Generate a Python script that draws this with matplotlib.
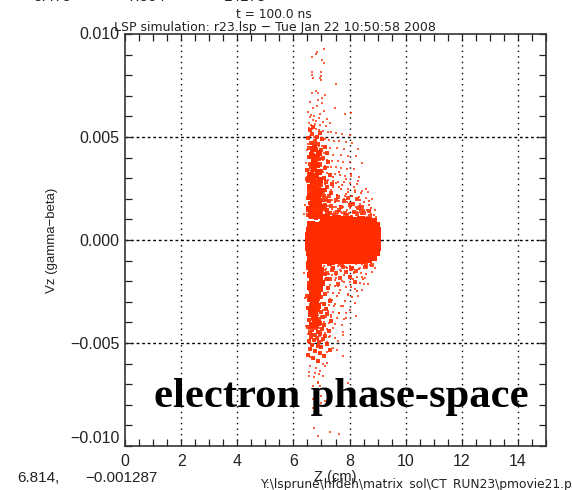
import matplotlib
matplotlib.use('Agg')
import matplotlib.pyplot as plt

outname = 'out.png'

xticks = [0, 2, 4, 6, 8, 10, 12, 14]
xtick_labels = ['0', '2', '4', '6', '8', '10', '12', '14']
yticks = [-0.010, -0.005, 0.0, 0.005, 0.010]
ytick_labels = ['\u22120.010', '\u22120.005', '0.000', '0.005', '0.010']

# sparse tail above the column
top_x = [7.09, 6.83, 6.79, 6.67, 7.01, 7.09, 6.66, 6.97, 6.65, 6.97, 6.71, 6.95, 6.97, 7.52, 6.79, 6.67,
         6.87, 7.14, 7.01, 6.89, 6.59, 7.01, 6.83, 6.71, 7.48, 6.51, 7.10, 8.04, 7.84, 6.95, 6.62, 6.75,
         6.58, 6.90, 7.21, 6.70, 6.82, 7.05, 6.55, 7.32, 6.78, 6.64, 6.93, 7.15, 6.72]
top_y = [.00927, .00914, .00903, .00887, .00874, .00858, .00817, .00815, .00801, .00796, .00788, .00785,
         .00777, .00759, .00723, .00712, .00712, .00704, .00687, .00679, .00671, .00666, .00652, .00639,
         .0064, .00623, .00627, .00618, .00611, .00610, .00605, .00600, .00596, .00592, .00588, .00583,
         .00580, .00575, .00570, .00568, .00563, .00560, .00556, .00553, .00550]

upper_x = [6.55, 6.68, 6.80, 6.92, 7.05, 7.22, 7.35, 7.50, 7.73, 8.03, 6.60, 6.74, 6.86, 6.98, 7.12, 7.28,
           7.44, 7.62, 7.88, 8.08, 6.52, 6.66, 6.78, 6.90, 7.02, 7.16, 7.31, 7.55, 7.80, 8.30, 6.49, 6.63,
           6.72, 6.84, 6.96, 7.09, 7.25, 7.41, 7.68, 7.95, 8.22, 6.58, 6.70, 6.82, 6.94, 7.06, 7.20, 7.38,
           7.58, 7.76, 8.00, 8.45, 6.46, 6.61, 6.76, 6.88, 7.00, 7.14, 7.34, 7.52, 7.71, 7.92, 8.15, 6.54,
           6.65, 6.79, 6.91, 7.04, 7.18, 7.30, 7.47, 7.66, 7.84, 8.07, 8.33, 6.50, 6.68, 6.83, 6.97, 7.11,
           7.24, 7.42, 7.60, 7.79, 8.02, 8.26]
upper_y = [.00545, .00540, .00538, .00532, .00528, .00525, .00522, .00518, .00515, .00510, .00505, .00502,
           .00498, .00495, .00490, .00486, .00483, .00480, .00476, .00472, .00468, .00465, .00460, .00458,
           .00455, .00450, .00448, .00445, .00442, .00440, .00436, .00432, .00430, .00427, .00424, .00420,
           .00418, .00415, .00412, .00410, .00406, .00402, .00400, .00397, .00394, .00390, .00388, .00385,
           .00382, .00380, .00377, .00375, .00372, .00370, .00367, .00364, .00360, .00358, .00355, .00352,
           .00350, .00347, .00344, .00340, .00337, .00334, .00330, .00328, .00325, .00322, .00320, .00316,
           .00313, .00310, .00307, .00304, .00300, .00298, .00295, .00292, .00290, .00286, .00283, .00280,
           .00277, .00274]

# fuzzy shoulder between the column and the right hand blob
shoulder_up_x = [7.18, 7.42, 7.71, 7.95, 8.20, 8.44, 8.66, 7.08, 7.30, 7.56, 7.84, 8.08, 8.32, 8.58, 8.80,
                 7.14, 7.36, 7.62, 7.90, 8.14, 8.38, 8.70, 6.40, 7.24, 7.50, 7.77, 8.02, 8.26, 8.52, 8.92,
                 7.12, 7.46, 7.68, 7.98, 8.18, 8.46, 8.76, 6.36, 7.28, 7.54, 7.82, 8.10, 8.34, 8.62, 8.96]
shoulder_up_y = [.00262, .00255, .00250, .00246, .00242, .00238, .00232, .00228, .00224, .00220, .00216,
                 .00212, .00208, .00204, .00200, .00196, .00192, .00188, .00184, .00180, .00176, .00172,
                 .00168, .00165, .00162, .00158, .00155, .00152, .00148, .00145, .00142, .00138, .00135,
                 .00132, .00130, .00128, .00126, .00124, .00122, .00120, .00118, .00116, .00114, .00112,
                 .00110]
shoulder_lo_x = [7.20, 7.45, 7.70, 7.94, 8.22, 8.46, 8.72, 7.10, 7.34, 7.60, 7.86, 8.12, 8.36, 8.64, 8.90,
                 7.16, 7.40, 7.66, 7.92, 8.16, 8.42, 6.38, 7.26, 7.52, 7.80, 8.04, 8.28, 8.56, 7.14, 7.48,
                 7.74, 8.00, 8.24, 8.50, 7.30, 7.58, 7.88, 8.18, 8.44, 7.22, 7.64, 7.96, 8.30, 6.42, 7.36]
shoulder_lo_y = [-.00108, -.00110, -.00112, -.00114, -.00116, -.00118, -.00120, -.00124, -.00126, -.00128,
                 -.00130, -.00132, -.00134, -.00136, -.00138, -.00142, -.00145, -.00148, -.00150, -.00154,
                 -.00158, -.00160, -.00164, -.00168, -.00172, -.00176, -.00180, -.00184, -.00190, -.00194,
                 -.00198, -.00202, -.00208, -.00212, -.00218, -.00224, -.00230, -.00236, -.00244, -.00252,
                 -.00258, -.00266, -.00272, -.00280, -.00290]

lower_x = [6.55, 6.70, 6.84, 6.98, 7.12, 7.28, 7.46, 7.70, 6.50, 6.64, 6.78, 6.92, 7.06, 7.22, 7.40, 7.62,
           7.88, 6.58, 6.72, 6.86, 7.00, 7.16, 7.34, 7.54, 7.80, 6.53, 6.67, 6.81, 6.95, 7.10, 7.26, 7.48,
           7.73, 6.46, 6.62, 6.76, 6.90, 7.04, 7.20, 7.42, 8.22, 6.56, 6.69, 6.83, 6.97, 7.13, 7.30, 7.60,
           6.52, 6.66, 6.80, 6.94, 7.08, 7.28, 7.48, 7.78, 7.78, 6.60, 6.74, 6.88, 7.02, 7.21, 7.40, 7.57,
           6.57, 6.71, 6.85, 6.99, 7.18, 6.63, 6.77, 6.91, 7.11, 7.78, 6.59, 6.73, 6.87, 7.04, 6.60, 6.79,
           6.95, 7.18, 7.11, 6.56, 6.77, 6.92, 7.04, 6.57, 6.73, 6.89]
lower_y = [-.00296, -.00300, -.00304, -.00306, -.00310, -.00314, -.00318, -.00322, -.00326, -.00330, -.00334,
           -.00336, -.00340, -.00344, -.00348, -.00352, -.00356, -.00360, -.00362, -.00366, -.00368, -.00372,
           -.00376, -.00380, -.00384, -.00388, -.00390, -.00394, -.00396, -.00400, -.00404, -.00408, -.00412,
           -.00416, -.00420, -.00422, -.00426, -.00428, -.00432, -.00429, -.00369, -.00436, -.00440, -.00442,
           -.00446, -.00450, -.00466, -.00490, -.00454, -.00458, -.00460, -.00464, -.00468, -.00472, -.00476,
           -.00461, -.00445, -.00480, -.00484, -.00488, -.00492, -.00496, -.00523, -.00534, -.00502, -.00508,
           -.00514, -.00520, -.00542, -.00530, -.00540, -.00550, -.00560, -.00563, -.00570, -.00580, -.00590,
           -.00600, -.00610, -.00622, -.00635, -.00599, -.00610, -.00639, -.00644, -.00651, -.00660, -.0066,
           -.00667, -.00688]

tail_x = [6.86, 6.69, 6.95, 7.96, 6.97, 7.13, 6.69, 6.97, 6.69, 6.75, 6.88, 7.30, 7.61]
tail_y = [-.00696, -.00709, -.00707, -.00693, -.00756, -.00782, -.00774, -.00793, -.00814, -.00915, -.00951,
          -.00933, -.00941]

# denser stippling in the column above and below the blob
col_up_x = [6.71, 6.58, 6.93, 6.66, 6.84, 6.52, 7.03, 6.77, 6.61, 6.89, 6.73, 7.11, 6.56, 6.82, 6.97, 6.68,
            7.19, 6.63, 6.87, 6.75, 6.54, 7.06, 6.91, 6.69, 6.80, 7.24, 6.59, 6.95, 6.72, 6.85, 6.64, 7.13,
            6.78, 6.50, 7.00, 6.67, 6.88, 6.57, 7.29, 6.83, 6.74, 7.08, 6.62, 6.92, 6.70, 6.53, 7.16, 6.86,
            6.65, 6.98, 6.76, 7.21, 6.60, 6.81, 7.04, 6.69, 6.90, 6.55, 7.34, 6.73, 6.94, 6.63, 7.10, 6.84,
            6.51, 6.79, 7.01, 6.67, 7.26, 6.88, 6.58, 6.96, 6.72, 7.14, 6.61, 6.83, 7.05, 6.75, 6.54, 6.92,
            7.18, 6.66, 6.86, 6.99, 6.60, 7.31, 6.77, 6.94, 6.52, 7.09, 6.70, 6.89, 6.64, 7.23, 6.80, 7.02,
            6.57, 6.74, 6.91, 7.12, 6.68, 6.85, 6.50, 7.38, 6.97, 6.62, 6.78, 7.07, 6.55, 6.88, 7.20, 6.71]
col_up_y = [.00547, .00533, .00521, .00514, .00502, .00496, .00489, .00481, .00472, .00468, .00459, .00452,
            .00447, .00441, .00436, .00429, .00424, .00418, .00413, .00407, .00401, .00397, .00392, .00386,
            .00381, .00377, .00371, .00367, .00362, .00357, .00352, .00348, .00343, .00339, .00334, .00329,
            .00325, .00320, .00316, .00311, .00307, .00302, .00298, .00293, .00289, .00284, .00280, .00276,
            .00271, .00267, .00262, .00258, .00254, .00249, .00245, .00241, .00237, .00232, .00228, .00224,
            .00220, .00216, .00212, .00208, .00204, .00200, .00196, .00192, .00188, .00184, .00180, .00176,
            .00173, .00169, .00165, .00162, .00158, .00155, .00151, .00148, .00144, .00141, .00138, .00135,
            .00132, .00129, .00126, .00123, .00121, .00118, .00116, .00114, .00112, .00110, .00108, .00106,
            .00305, .00283, .00262, .00241, .00358, .00327, .00294, .00272, .00231, .00203, .00185, .00167,
            .00149, .00133, .00119, .00394]
col_lo_x = [6.71, 6.58, 6.93, 6.66, 6.84, 6.52, 7.03, 6.77, 6.61, 6.89, 6.73, 7.11, 6.56, 6.82, 6.97, 6.68,
            7.19, 6.63, 6.87, 6.75, 6.54, 7.06, 6.91, 6.69, 6.80, 7.24, 6.59, 6.95, 6.72, 6.85, 6.64, 7.13,
            6.78, 6.50, 7.00, 6.67, 6.88, 6.57, 7.29, 6.83, 6.74, 7.08, 6.62, 6.92, 6.70, 6.53, 7.16, 6.86,
            6.65, 6.98, 6.76, 7.21, 6.60, 6.81, 7.04, 6.69, 6.90, 6.55, 7.34, 6.73, 6.94, 6.63, 7.10, 6.84,
            6.51, 6.79, 7.01, 6.67, 7.26, 6.88, 6.58, 6.96, 6.72, 7.14, 6.61, 6.83, 7.05, 6.75, 6.54, 6.92,
            7.18, 6.66, 6.86, 6.99, 6.60, 7.31, 6.77, 6.94, 6.52, 7.09, 6.70, 6.89]
col_lo_y = [-.00112, -.00118, -.00123, -.00127, -.00131, -.00136, -.00141, -.00146, -.00151, -.00155, -.00160,
            -.00165, -.00170, -.00174, -.00179, -.00184, -.00189, -.00194, -.00199, -.00203, -.00208, -.00213,
            -.00218, -.00223, -.00228, -.00233, -.00238, -.00242, -.00247, -.00252, -.00257, -.00262, -.00267,
            -.00272, -.00277, -.00281, -.00286, -.00291, -.00296, -.00301, -.00306, -.00311, -.00316, -.00320,
            -.00325, -.00330, -.00335, -.00340, -.00345, -.00350, -.00355, -.00359, -.00364, -.00369, -.00374,
            -.00379, -.00384, -.00389, -.00394, -.00398, -.00403, -.00408, -.00413, -.00418, -.00423, -.00428,
            -.00433, -.00437, -.00442, -.00447, -.00452, -.00457, -.00462, -.00467, -.00472, -.00476, -.00481,
            -.00486, -.00491, -.00497, -.00503, -.00509, -.00515, -.00521, -.00527, -.00533, -.00540, -.00548,
            -.00556, -.00565, -.00575, -.00586]

# stippling in the shoulder to the right of the column
sh_fill_x = [7.25, 7.63, 8.05, 7.41, 7.88, 8.31, 7.12, 7.72, 8.17, 8.58, 7.34, 7.96, 8.42, 7.55, 8.09, 7.21,
             7.80, 8.36, 8.69, 7.47, 8.01, 7.16, 7.67, 8.24, 8.77, 7.38, 7.92, 8.49, 7.59, 8.13, 7.28, 7.84,
             8.40, 8.86, 7.50, 8.06, 7.19, 7.74, 8.28, 8.62, 7.43, 7.99, 8.53, 7.31, 7.86, 8.19, 8.74, 7.64,
             8.34, 7.52,
             7.27, 7.61, 8.03, 7.44, 7.90, 8.33, 7.14, 7.70, 8.15, 8.60, 7.36, 7.98, 8.44, 7.53, 8.11, 7.23,
             7.82, 8.38, 8.67, 7.49, 8.04, 7.18, 7.65, 8.26, 8.79, 7.40, 7.94, 8.47, 7.57, 8.10, 7.30, 7.83,
             8.21, 7.48, 7.77, 7.20, 8.00, 7.62, 7.35, 7.89]
sh_fill_y = [.00352, .00331, .00318, .00306, .00297, .00285, .00274, .00268, .00259, .00247, .00241, .00235,
             .00228, .00219, .00213, .00207, .00201, .00196, .00189, .00183, .00178, .00172, .00167, .00161,
             .00156, .00152, .00147, .00143, .00139, .00136, .00132, .00128, .00125, .00121, .00118, .00115,
             .00123, .00129, .00137, .00146, .00159, .00174, .00186, .00193, .00221, .00233, .00142, .00255,
             .00166, .00279,
             -.00115, -.00121, -.00126, -.00131, -.00136, -.00141, -.00147, -.00152, -.00158, -.00163, -.00169,
             -.00174, -.00179, -.00185, -.00191, -.00196, -.00202, -.00208, -.00214, -.00221, -.00228, -.00235,
             -.00241, -.00248, -.00155, -.00256, -.00263, -.00189, -.00271, -.00279, -.00288, -.00296, -.00304,
             -.00313, -.00322, -.00332, -.00341, -.00352, -.00365, -.00378]

# medium density patches hugging the blob
patch_x = [7.20, 7.55, 7.85, 8.15, 8.50, 7.35, 7.70, 8.00, 8.35, 8.68, 7.15, 7.50, 7.80, 8.12, 8.45,
           7.28, 7.60, 7.95, 8.28, 7.40, 7.75, 8.08, 7.18, 7.52, 7.88, 8.22, 8.55, 7.32, 7.66, 8.02,
           7.44, 7.92, 8.26, 8.72, 7.12, 7.64, 8.40, 7.26, 7.74, 8.60, 7.38, 8.06, 8.80, 7.58, 8.18]
patch_y = [.00135, .00138, .00132, .00136, .00130, .00165, .00160, .00168, .00155, .00140, .00195, .00192,
           .00188, .00175, .00160, .00215, .00210, .00205, .00200, -.00135, -.00130, -.00138, -.00160,
           -.00158, -.00155, -.00150, -.00132, -.00190, -.00185, -.00178, .00122, .00119, .00124, .00118,
           .00150, .00146, .00142, -.00118, -.00122, -.00119, -.00146, -.00142, -.00120, -.00212, -.00205]

# solid part of the column, bigger marks
column_x = [6.72, 6.90, 6.62, 6.80, 6.96, 6.70, 6.88, 6.60, 6.78, 6.94, 6.68, 6.86, 6.58, 6.76, 6.92,
            6.66, 6.84, 7.00, 6.56, 6.74, 6.92, 6.64, 6.82, 7.04, 6.54, 6.72, 6.90, 6.62, 6.80, 6.98,
            6.58, 6.76, 6.94, 6.66, 6.84, 7.02, 6.60, 6.78, 6.96, 6.68, 6.86, 6.62, 6.80, 6.70,
            6.88, 6.64, 6.78, 6.72, 6.74, 6.84, 6.68, 6.80, 6.72, 6.90, 6.76, 6.66, 6.86]
column_y = [.00345, .00330, .00315, .00310, .00290, .00285, .00275, .00258, .00250,
            .00240, .00225, .00220, .00210, .00195, .00190, .00175, .00165, .00160, .00150, .00135, .00130,
            .00120, .00118, .00112, -.00115, -.00118, -.00122, -.00140, -.00145, -.00150, -.00170, -.00175, -.00180,
            -.00200, -.00205, -.00210, -.00230, -.00235, -.00240, -.00260, -.00265, -.00285, -.00290,
            -.00315, -.00320, -.00340, -.00345, -.00370, .00380, .00365, .00410, .00400, .00440, .00420,
            -.00390, -.00415, -.00405]

# solid blob around vz = 0
core_x = [7.10, 7.32, 7.54, 7.76, 7.98, 8.20, 8.42, 8.64, 8.84,
          6.62, 6.84, 7.06, 7.28, 7.50, 7.72, 7.94, 8.16, 8.38, 8.60, 8.82, 8.96,
          6.58, 6.80, 7.02, 7.24, 7.46, 7.68, 7.90, 8.12, 8.34, 8.56, 8.78, 8.98,
          6.56, 6.78, 7.00, 7.22, 7.44, 7.66, 7.88, 8.10, 8.32, 8.54, 8.76, 8.98,
          6.54, 6.76, 6.98, 7.20, 7.42, 7.64, 7.86, 8.08, 8.30, 8.52, 8.74, 8.98,
          6.56, 6.78, 7.00, 7.22, 7.44, 7.66, 7.88, 8.10, 8.32, 8.54, 8.76, 8.98,
          6.60, 6.82, 7.04, 7.26, 7.48, 7.70, 7.92, 8.14, 8.36, 8.58, 8.80, 8.94,
          6.64, 6.86, 7.08, 7.30, 7.52, 7.74, 7.96, 8.18, 8.40, 8.62, 8.82,
          7.12, 7.34, 7.56, 7.78, 8.00, 8.22, 8.44, 8.66]
core_y = [.00098, .00095, .00100, .00096, .00098, .00094, .00097, .00092, .00088,
          .00072, .00070, .00073, .00069, .00072, .00070, .00074, .00071, .00069, .00072, .00070, .00066,
          .00045, .00043, .00046, .00044, .00042, .00045, .00043, .00046, .00044, .00042, .00045, .00043,
          .00018, .00016, .00019, .00017, .00015, .00018, .00016, .00019, .00017, .00015, .00018, .00016,
          -.00008, -.00010, -.00007, -.00009, -.00011, -.00008, -.00010, -.00007, -.00009, -.00011, -.00008, -.00010,
          -.00034, -.00036, -.00033, -.00035, -.00037, -.00034, -.00036, -.00033, -.00035, -.00037, -.00034, -.00036,
          -.00060, -.00062, -.00059, -.00061, -.00063, -.00060, -.00062, -.00059, -.00061, -.00063, -.00060, -.00058,
          -.00084, -.00086, -.00083, -.00085, -.00087, -.00084, -.00086, -.00083, -.00085, -.00087, -.00082,
          -.00098, -.00100, -.00097, -.00099, -.00096, -.00098, -.00095, -.00093]

fig1 = plt.figure(figsize=(5.72, 4.90), dpi=100)
ax = fig1.add_axes([125/572, 1-446/490, (546-125)/572, (446-34)/490])
W, H = 572., 490.
red = '#ff2c00'
sans = 'Liberation Sans'

ax.set_xlim(0, 15)
ax.set_ylim(-0.010, 0.010)

for v in xticks[1:]:
    ax.axvline(v, color='k', lw=1.0, ls=(0, (1, 3)), zorder=1)
for v in yticks[1:-1]:
    ax.axhline(v, color='k', lw=1.0, ls=(0, (2, 2)), zorder=1)

# all the little dots
for xs, ys in [(top_x, top_y), (upper_x, upper_y), (shoulder_up_x, shoulder_up_y),
               (shoulder_lo_x, shoulder_lo_y), (lower_x, lower_y), (tail_x, tail_y)]:
    ax.scatter(xs, ys, s=2.6, marker='s', c=red, alpha=0.75, linewidths=0, zorder=3)
ax.scatter(sh_fill_x, sh_fill_y, s=4, marker='s', c=red, alpha=0.8, linewidths=0, zorder=3)
ax.scatter(patch_x, patch_y, s=9, marker='s', c=red, alpha=0.85, linewidths=0, zorder=3)
ax.scatter(col_up_x, col_up_y, s=7, marker='s', c=red, alpha=0.9, linewidths=0, zorder=3)
ax.scatter(col_lo_x, col_lo_y, s=7, marker='s', c=red, alpha=0.9, linewidths=0, zorder=3)
ax.scatter(column_x, column_y, s=16, marker='s', c=red, linewidths=0, zorder=3)
ax.scatter(core_x, core_y, s=36, marker='s', c=red, linewidths=0, zorder=3)

ax.set_xticks(xticks)
ax.set_xticklabels(xtick_labels)
ax.set_yticks(yticks)
ax.set_yticklabels(ytick_labels)
ax.set_xticks([0.5*i for i in range(31)], minor=True)
ax.set_yticks([-0.010+0.001*i for i in range(21)], minor=True)
ax.tick_params(which='both', direction='in', top=True, right=True, length=5, width=0.9, color='#222222')
ax.tick_params(axis='x', which='major', labelsize=11.5, pad=6, labelcolor='#222222')
ax.tick_params(axis='y', which='major', labelsize=11.5, pad=4, labelcolor='#222222')
for lab in ax.get_xticklabels() + ax.get_yticklabels():
    lab.set_family(sans)
# the end labels sit inside the axis limits in the original
ax.get_yticklabels()[0].set_verticalalignment('bottom')
ax.get_yticklabels()[-1].set_verticalalignment('center')
for s in ax.spines.values():
    s.set_linewidth(1.2)
    s.set_color('#333333')

ax.text(7.69, -0.0076, 'electron phase-space', family='Liberation Serif', weight='bold',
        fontsize=30.7, color='k', ha='center', va='center', zorder=5)

# header and footer strings of the original plot window
fig1.text(52/W, 1+3/H, '5.475', family=sans, fontsize=11, ha='center', va='center', color='#222222')
fig1.text(146/W, 1+3/H, '7.504', family=sans, fontsize=11, ha='center', va='center', color='#222222')
fig1.text(245/W, 1+3/H, '14178', family=sans, fontsize=11, ha='center', va='center', color='#222222')
fig1.text(274/W, 1-15/H, 't = 100.0 ns', family='DejaVu Sans', fontsize=8.8, ha='center', va='center', color='#222222')
fig1.text(275/W, 1-27/H, 'LSP simulation: r23.lsp \u2212 Tue Jan 22 10:50:58 2008', family='DejaVu Sans',
          fontsize=9.0, ha='center', va='center', color='#222222')
fig1.text(52/W, 1-240/H, 'Vz (gamma\u2212beta)', family=sans, fontsize=9.5, rotation=90,
          ha='center', va='center', color='#222222')
fig1.text(38/W, 1-478/H, '6.814,', family=sans, fontsize=11, ha='center', va='center', color='#222222')
fig1.text(121/W, 1-478/H, '\u22120.001287', family=sans, fontsize=11, ha='center', va='center', color='#222222')
fig1.text(335/W, 1-477/H, 'Z (cm)', family=sans, fontsize=10.5, ha='center', va='center', color='#222222')
fig1.text(260/W, 1-484/H, 'Y:\\lsprune\\hfdeh\\matrix_sol\\CT_RUN23\\pmovie21.p4', family='DejaVu Sans',
          fontsize=8.8, ha='left', va='center', color='#222222')

fig1.savefig(outname, dpi=100)
plt.close()
